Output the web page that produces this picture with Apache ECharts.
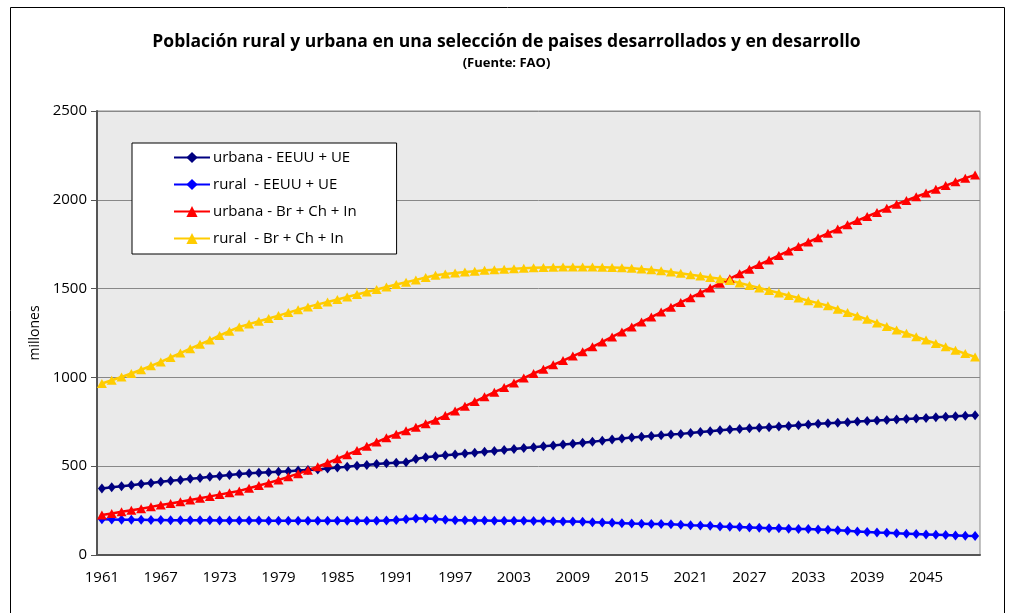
<!DOCTYPE html>
<html>
<head>
<meta charset="utf-8">
<script src="https://cdn.jsdelivr.net/npm/echarts@6/dist/echarts.min.js"></script>
<style>
  html, body { margin: 0; padding: 0; background: #fff; }
  #chart { width: 1013px; height: 613px; }
</style>
</head>
<body>
<div id="chart"></div>
<script>
// años 1961 - 2050
const years = [
  '1961','1962','1963','1964','1965','1966','1967','1968','1969','1970',
  '1971','1972','1973','1974','1975','1976','1977','1978','1979','1980',
  '1981','1982','1983','1984','1985','1986','1987','1988','1989','1990',
  '1991','1992','1993','1994','1995','1996','1997','1998','1999','2000',
  '2001','2002','2003','2004','2005','2006','2007','2008','2009','2010',
  '2011','2012','2013','2014','2015','2016','2017','2018','2019','2020',
  '2021','2022','2023','2024','2025','2026','2027','2028','2029','2030',
  '2031','2032','2033','2034','2035','2036','2037','2038','2039','2040',
  '2041','2042','2043','2044','2045','2046','2047','2048','2049','2050'
];

// urbana - EEUU + UE (millones)
const urbanaEEUU = [
  375, 381, 387, 393, 400, 406, 412, 418, 423, 429,
  434, 440, 445, 451, 456, 460, 463, 466, 469, 472,
  476, 479, 482, 487, 492, 497, 502, 507, 512, 516,
  519, 522, 540, 551, 556, 561, 566, 571, 576, 581,
  586, 591, 597, 602, 607, 612, 617, 622, 627, 632,
  638, 644, 650, 656, 662, 666, 670, 674, 678, 682,
  687, 692, 697, 702, 707, 710, 713, 716, 720, 723,
  727, 731, 735, 739, 742, 745, 748, 751, 754, 757,
  760, 763, 766, 769, 772, 775, 778, 781, 784, 787
];

// rural - EEUU + UE
const ruralEEUU = [
  201, 200, 199, 198, 198, 197, 197, 196, 196, 195,
  195, 195, 194, 194, 194, 194, 194, 193, 193, 193,
  193, 193, 193, 193, 193, 193, 193, 193, 193, 194,
  197, 201, 205, 206, 203, 199, 196, 195, 194, 194,
  193, 193, 193, 193, 192, 191, 190, 189, 188, 187,
  185, 183, 181, 179, 177, 176, 175, 174, 173, 171,
  168, 166, 164, 161, 159, 157, 155, 153, 151, 150,
  148, 147, 146, 144, 142, 139, 136, 133, 130, 127,
  125, 122, 120, 118, 116, 114, 112, 110, 108, 107
];

// urbana - Br + Ch + In
const urbanaBCI = [
  225, 234, 243, 252, 261, 271, 281, 290, 300, 310,
  320, 330, 340, 350, 361, 376, 391, 406, 422, 440,
  458, 477, 497, 519, 542, 565, 588, 612, 636, 660,
  680, 699, 719, 739, 759, 785, 811, 838, 864, 891,
  917, 943, 969, 996, 1022, 1046, 1071, 1095, 1120, 1144,
  1172, 1200, 1228, 1256, 1284, 1312, 1340, 1368, 1395, 1422,
  1449, 1476, 1503, 1530, 1556, 1583, 1609, 1635, 1661, 1687,
  1712, 1737, 1762, 1787, 1811, 1835, 1859, 1883, 1906, 1929,
  1952, 1975, 1996, 2017, 2038, 2059, 2080, 2101, 2122, 2140
];

// rural - Br + Ch + In
const ruralBCI = [
  966, 984, 1002, 1022, 1043, 1065, 1087, 1112, 1137, 1162,
  1186, 1210, 1236, 1260, 1284, 1300, 1316, 1332, 1348, 1365,
  1381, 1397, 1411, 1425, 1439, 1453, 1467, 1481, 1495, 1509,
  1523, 1536, 1549, 1562, 1575, 1582, 1588, 1593, 1598, 1603,
  1606, 1609, 1612, 1615, 1617, 1619, 1620, 1621, 1622, 1622,
  1621, 1620, 1619, 1617, 1615, 1611, 1606, 1600, 1593, 1586,
  1578, 1571, 1563, 1555, 1546, 1532, 1518, 1504, 1490, 1475,
  1461, 1447, 1432, 1418, 1403, 1384, 1365, 1346, 1327, 1307,
  1287, 1267, 1248, 1229, 1210, 1191, 1172, 1153, 1134, 1115
];

const seriesNames = [
  'urbana - EEUU + UE',
  'rural  - EEUU + UE',
  'urbana - Br + Ch + In',
  'rural  - Br + Ch + In'
];

const fontFamily = '"Open Sans", "Noto Sans", sans-serif';

// serie de línea con marcadores en todos los puntos
const makeLine = (name, data, color, symbol, symbolSize) => ({
  name,
  type: 'line',
  data,
  symbol,
  symbolSize,
  showSymbol: true,
  showAllSymbol: true,
  lineStyle: { color, width: 2.5 },
  itemStyle: { color },
  emphasis: { disabled: true },
  animation: false
});

const chart = echarts.init(document.getElementById('chart'));

chart.setOption({
  backgroundColor: '#ffffff',
  animation: false,
  textStyle: { fontFamily },
  title: {
    text: 'Población rural y urbana en una selección de paises desarrollados y en desarrollo',
    subtext: '(Fuente: FAO)',
    left: 'center',
    top: 28,
    itemGap: 6,
    textStyle: { fontSize: 17.5, fontWeight: 'bold', color: '#000', fontFamily },
    subtextStyle: { fontSize: 13, fontWeight: 'bold', color: '#000', fontFamily }
  },
  graphic: [
    {
      // marco exterior del gráfico
      type: 'rect',
      shape: { x: 10.5, y: 7.5, width: 994, height: 612 },
      style: { fill: 'none', stroke: '#000', lineWidth: 1 },
      z: 0
    }
  ],
  legend: {
    orient: 'vertical',
    left: 132,
    top: 143,
    padding: [7, 40, 8, 41],
    itemGap: 12,
    itemWidth: 36,
    itemHeight: 14,
    backgroundColor: '#ffffff',
    borderColor: '#000',
    borderWidth: 1,
    textStyle: { fontSize: 15, color: '#000', fontFamily, padding: [0, 0, 0, -2] },
    data: seriesNames
  },
  grid: {
    left: 97,
    right: 33,
    top: 111,
    bottom: 58,
    show: true,
    backgroundColor: '#EAEAEA',
    borderColor: '#888888',
    borderWidth: 1
  },
  xAxis: {
    type: 'category',
    data: years,
    boundaryGap: true,
    axisLine: { lineStyle: { color: '#555', width: 2 } },
    axisTick: { interval: 5, length: 6, lineStyle: { color: '#555', width: 1 } },
    axisLabel: { interval: 5, fontSize: 15, color: '#000', margin: 15, fontFamily },
    splitLine: { show: false }
  },
  yAxis: {
    type: 'value',
    min: 0,
    max: 2500,
    interval: 500,
    name: 'millones',
    nameLocation: 'middle',
    nameGap: 54,
    nameTextStyle: { fontSize: 14, color: '#000', fontFamily },
    axisLine: { show: true, lineStyle: { color: '#555', width: 2 } },
    axisTick: { show: true, length: 6, lineStyle: { color: '#555' } },
    axisLabel: {
      fontSize: 15,
      color: '#000',
      margin: 10,
      fontFamily,
      formatter: value => String(value)
    },
    splitLine: { lineStyle: { color: '#888888', width: 1 } }
  },
  series: [
    makeLine(seriesNames[0], urbanaEEUU, '#000080', 'diamond', [8, 10]),
    makeLine(seriesNames[1], ruralEEUU, '#0000FF', 'diamond', [8, 10]),
    makeLine(seriesNames[2], urbanaBCI, '#FF0000', 'triangle', [10, 9]),
    makeLine(seriesNames[3], ruralBCI, '#FFCC00', 'triangle', [10, 9])
  ]
});
</script>
</body>
</html>
